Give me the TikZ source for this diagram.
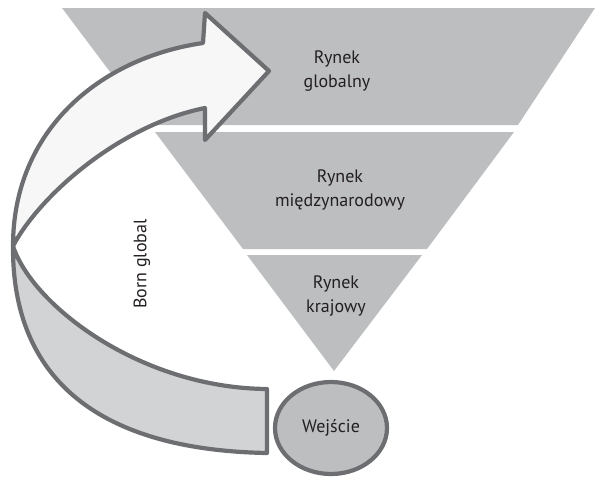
\documentclass[tikz,border=0pt]{standalone}
\usepackage{fontspec}
\setmainfont{PT Sans}
\usetikzlibrary{shapes.geometric}
\definecolor{trap}{HTML}{BCBEC0}
\definecolor{band}{HTML}{D1D3D4}
\definecolor{front}{HTML}{F7F7F7}
\definecolor{edge}{HTML}{6D6E71}
\definecolor{ink}{HTML}{231F20}
\begin{document}
\begin{tikzpicture}[x=1pt,y=-1pt,
  level/.style={fill=trap},
  lbl/.style={text=ink, font=\fontsize{18}{24}\selectfont, align=center, inner sep=0pt},
  outline/.style={draw=edge, line width=4.2pt, line join=round}]
\useasboundingbox (0,0) rectangle (595,477);
% inverted pyramid
\fill[level] (62,8) -- (595,8) -- (518,125) -- (150,125) -- cycle;
\fill[level] (155,132) -- (514,132) -- (427,249) -- (243,249) -- cycle;
\fill[level] (247,255) -- (422,255) -- (334,371) -- cycle;
% curved arrow: back (grey) part
\coordinate (J) at (13,246);
\path[outline, fill=band] (J) .. controls (32,305) and (140,388) .. (267,389)
  -- (267,453) .. controls (100,450) and (12,380) .. (J) -- cycle;
% curved arrow: front (white) part with head
\path[outline, fill=front] (J) .. controls (13,130) and (100,58) .. (203,43)
  -- (205,13) -- (269,71) -- (205,140) -- (205,108)
  .. controls (120,125) and (40,195) .. (J) -- cycle;
% labels
\node[lbl] (glob) at (337,71) {Rynek\\globalny};
\node[lbl] (intl) at (340,190) {Rynek\\międzynarodowy};
\node[lbl] (dom) at (336,296) {Rynek\\krajowy};
\node[lbl, rotate=90] (born) at (142,264) {Born global};
\node[ellipse, draw=edge, line width=4.2pt, fill=trap, minimum width=112pt,
  minimum height=92pt, text=ink, font=\fontsize{18}{24}\selectfont] (entry) at (331,428) {Wejście};
\end{tikzpicture}
\end{document}
